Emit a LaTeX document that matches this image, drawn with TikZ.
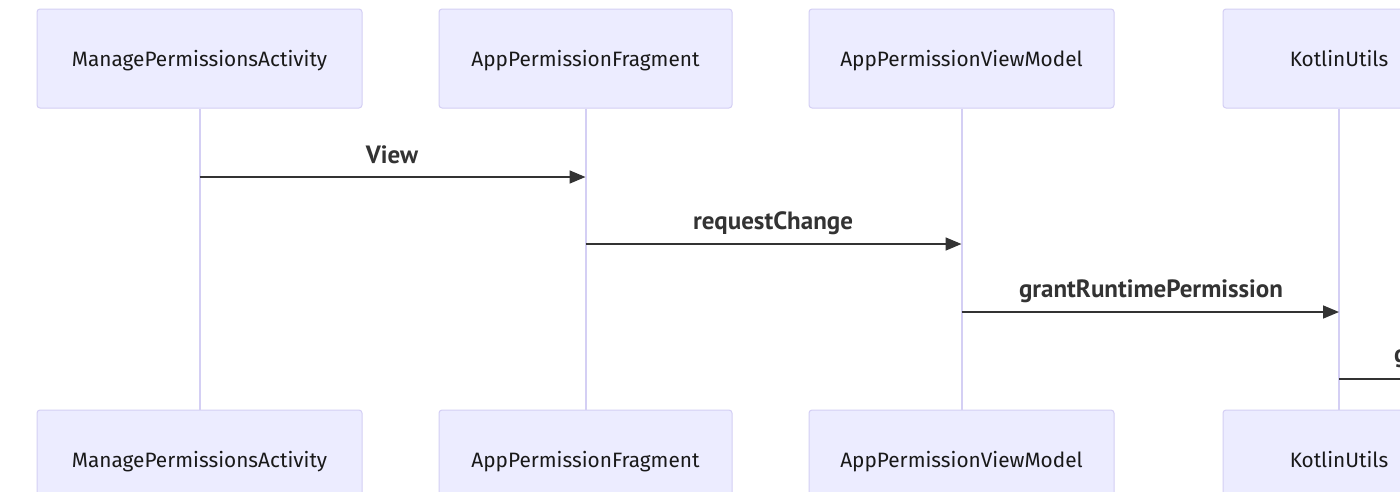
\documentclass[tikz,border=0pt]{standalone}
\usepackage{fontspec}
\setmainfont{PT Sans}
\newfontfamily\actorfont{Fira Sans}
\usetikzlibrary{arrows.meta}
\definecolor{actfill}{HTML}{ECECFF}
\definecolor{actline}{HTML}{D4CFF4}
\definecolor{lifeline}{HTML}{D4CFF4}
\definecolor{msg}{HTML}{333333}
\tikzset{
  actor/.style={draw=actline, fill=actfill, line width=1pt, rounded corners=3pt,
    minimum height=99pt, inner sep=0pt, text height=15pt, text depth=0pt,
    font=\actorfont\fontsize{20.8}{24}\selectfont, text=black!90},
  life/.style={draw=lifeline, line width=2pt},
  msgline/.style={draw=msg, line width=1.6pt, -{Triangle[length=16pt,width=13pt]}},
  msgplain/.style={draw=msg, line width=1.6pt},
  msglabel/.style={font=\bfseries\fontsize{25}{28}\selectfont, text=msg, inner sep=0pt}
}
\begin{document}
\begin{tikzpicture}[x=1pt,y=-1pt]
\useasboundingbox (0,0) rectangle (1400,491);
\clip (0,0) rectangle (1400,491);
\fill[white] (0,0) rectangle (1400,491);
% top actors
\node[actor, minimum width=325pt] (a1t) at (199.5,58.5) {ManagePermissionsActivity};
\node[actor, minimum width=293pt] (a2t) at (585.5,58.5) {AppPermissionFragment};
\node[actor, minimum width=305pt] (a3t) at (961.5,58.5) {AppPermissionViewModel};
\node[actor, minimum width=232pt] (a4t) at (1339,58.5) {KotlinUtils};
% bottom actors
\node[actor, minimum width=325pt] (a1b) at (199.5,459.5) {ManagePermissionsActivity};
\node[actor, minimum width=293pt] (a2b) at (585.5,459.5) {AppPermissionFragment};
\node[actor, minimum width=305pt] (a3b) at (961.5,459.5) {AppPermissionViewModel};
\node[actor, minimum width=232pt] (a4b) at (1339,459.5) {KotlinUtils};
% lifelines
\draw[life] (a1t.south) -- (a1b.north);
\draw[life] (a2t.south) -- (a2b.north);
\draw[life] (a3t.south) -- (a3b.north);
\draw[life] (a4t.south) -- (a4b.north);
% message anchors
\coordinate (m1s) at (a1t.south |- 0,177);
\coordinate (m1e) at (a2t.south |- 0,177);
\coordinate (m2s) at (a2t.south |- 0,244);
\coordinate (m2e) at (a3t.south |- 0,244);
\coordinate (m3s) at (a3t.south |- 0,312);
\coordinate (m3e) at (a4t.south |- 0,312);
\coordinate (m4s) at (a4t.south |- 0,379);
\coordinate (m4e) at (1420,379);
\draw[msgline] (m1s) -- (m1e);
\draw[msgline] (m2s) -- (m2e);
\draw[msgline] (m3s) -- (m3e);
\draw[msgplain] (m4s) -- (m4e);
\node[msglabel] (l1) at (392,155) {View};
\node[msglabel] (l2) at (773,223) {requestChange};
\node[msglabel] (l3) at (1151,291) {grantRuntimePermission};
\node[msglabel, anchor=west] (l4) at (1394,359) {g};
\end{tikzpicture}
\end{document}
